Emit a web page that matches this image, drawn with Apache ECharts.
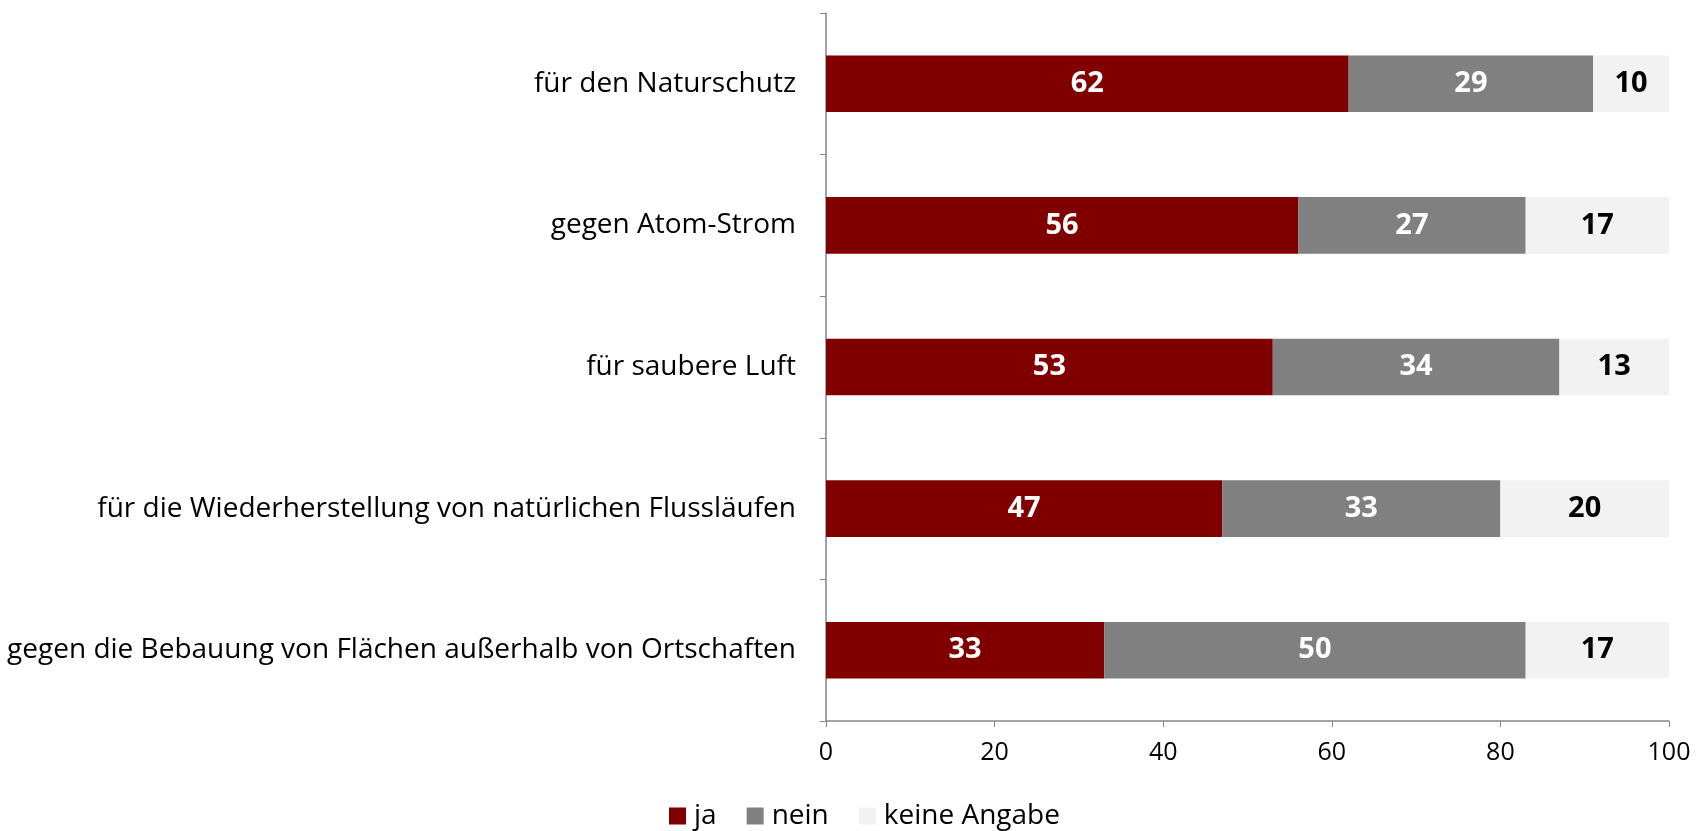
<!DOCTYPE html>
<html>
<head>
<meta charset="utf-8">
<script src="https://cdn.jsdelivr.net/npm/echarts@6/dist/echarts.min.js"></script>
<style>
  html, body { margin: 0; padding: 0; background: #fff; }
  #chart { width: 1705px; height: 831px; }
</style>
</head>
<body>
<div id="chart"></div>
<script>
// Categories top → bottom as in the picture
const categories = [
  'für den Naturschutz',
  'gegen Atom-Strom',
  'für saubere Luft',
  'für die Wiederherstellung von natürlichen Flussläufen',
  'gegen die Bebauung von Flächen außerhalb von Ortschaften',
];
const ja          = [62, 56, 53, 47, 33];
const nein        = [29, 27, 34, 33, 50];
const keineAngabe = [10, 17, 13, 20, 17];
const seriesNames = ['ja', 'nein', 'keine Angabe'];

const FONT = 'Open Sans, Noto Sans, sans-serif';
const AXIS = '#868686';

// Reversed so the first category ends up on top
const rev = arr => [...arr].reverse();

function barSeries(name, data, color, labelColor) {
  return {
    name,
    type: 'bar',
    stack: 'total',
    data: rev(data),
    barWidth: '40%',
    itemStyle: { color },
    label: {
      show: true,
      position: 'inside',
      color: labelColor,
      fontFamily: FONT,
      fontWeight: 'bold',
      fontSize: 29,
    },
  };
}

const chart = echarts.init(document.getElementById('chart'), null, { renderer: 'canvas' });
chart.setOption({
  animation: false,
  grid: { left: 826, right: 36, top: 13, bottom: 110, containLabel: false },
  legend: {
    data: seriesNames,
    top: 797,
    left: 664,
    itemWidth: 17,
    itemHeight: 17,
    itemGap: 30,
    icon: 'rect',
    textStyle: { fontFamily: FONT, fontSize: 28, color: '#000', padding: [0, 0, 0, 3] },
  },
  xAxis: {
    type: 'value',
    min: 0,
    max: 100,
    interval: 20,
    axisLine: { show: true, lineStyle: { color: AXIS, width: 1.5 } },
    axisTick: { show: true, length: 6, lineStyle: { color: AXIS } },
    splitLine: { show: false },
    axisLabel: { color: '#000', fontFamily: FONT, fontSize: 25, margin: 19 },
  },
  yAxis: {
    type: 'category',
    data: rev(categories),
    axisLine: { show: true, lineStyle: { color: AXIS, width: 1.5 } },
    axisTick: { show: true, length: 6, inside: false, lineStyle: { color: AXIS } },
    axisLabel: { color: '#000', fontFamily: FONT, fontSize: 28, margin: 30 },
  },
  series: [
    barSeries('ja', ja, '#800000', '#fff'),
    barSeries('nein', nein, '#808080', '#fff'),
    barSeries('keine Angabe', keineAngabe, '#f2f2f2', '#000'),
  ],
});
</script>
</body>
</html>
